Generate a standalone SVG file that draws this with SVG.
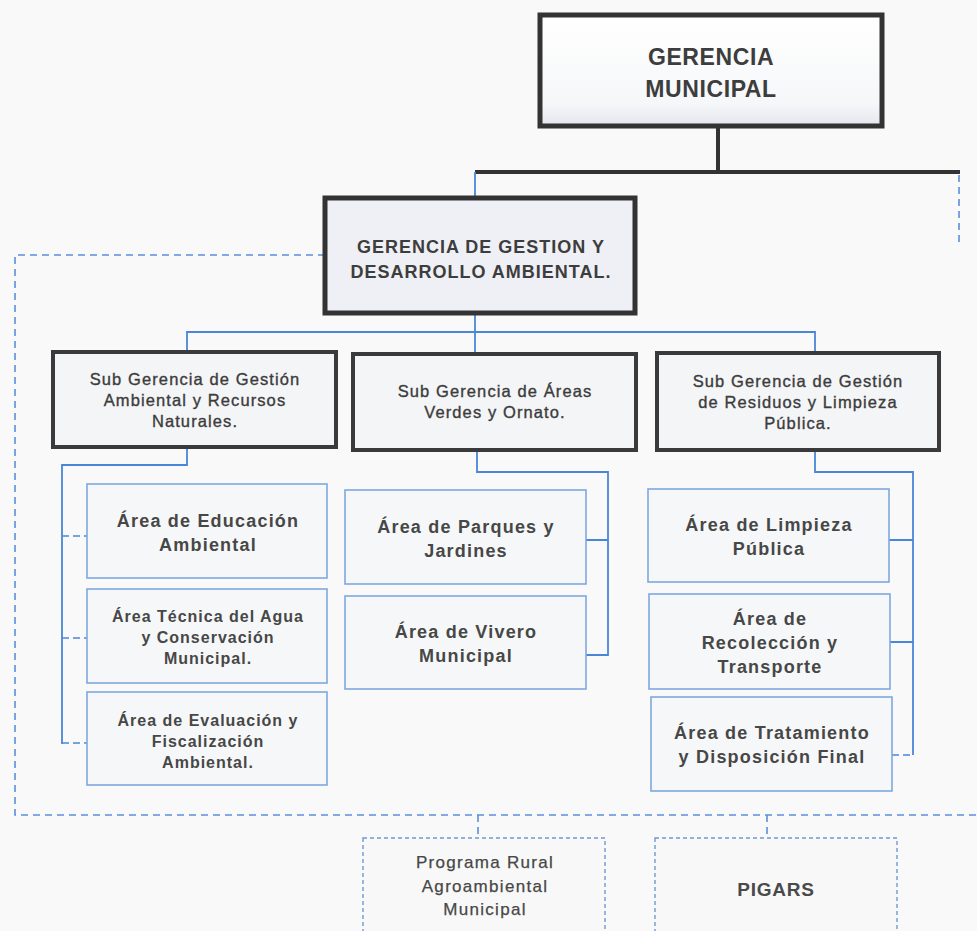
<svg xmlns="http://www.w3.org/2000/svg" width="977" height="931" viewBox="0 0 977 931">
<defs>
<linearGradient id="gTop" x1="0" y1="0" x2="0" y2="1">
<stop offset="0" stop-color="#ffffff"/>
<stop offset="0.8" stop-color="#f6f7f9"/>
<stop offset="1" stop-color="#e3e6ec"/>
</linearGradient>
<style>
.bg{fill:#f9f9f9}
.boxDark{fill:url(#gTop);stroke:#333;stroke-width:5}
.boxGes{fill:#eef0f5;stroke:#333;stroke-width:5}
.boxSub{fill:#f4f5f7;stroke:#3a3a3a;stroke-width:4}
.boxArea{fill:#f6f7f8;stroke:#7fa8df;stroke-width:1.6}
.boxDash{fill:#f8f8f8;stroke:#6f9ad8;stroke-width:1.4;stroke-dasharray:4 3}
.cDark{fill:none;stroke:#333;stroke-width:4}
.cBlue{fill:none;stroke:#4a86d8;stroke-width:1.8}
.cDash{fill:none;stroke:#5b8fd9;stroke-width:1.6;stroke-dasharray:7 5}
.cStub{fill:none;stroke:#4a86d8;stroke-width:1.6;stroke-dasharray:7 4}
text{font-family:"Liberation Sans",Arial,sans-serif;text-anchor:middle;fill:#3d3d3d}
.t1{font-size:23px;font-weight:bold;letter-spacing:0.6px}
.t2{font-size:18px;font-weight:bold;letter-spacing:1px}
.t3{font-size:16.5px;letter-spacing:1.1px;fill:#3c3c3c;stroke:#3c3c3c;stroke-width:0.35px}
.t4{font-size:18px;font-weight:bold;letter-spacing:1.2px;fill:#474747}
.t5{font-size:16px;font-weight:bold;letter-spacing:1px;fill:#474747}
.t6{font-size:17px;letter-spacing:1.3px;fill:#474747;stroke:#474747;stroke-width:0.25px}
.t7{font-size:19px;font-weight:bold;letter-spacing:0.8px;fill:#4a4a4a}
</style>
</defs>
<rect class="bg" x="0" y="0" width="977" height="931"/>

<g id="connectors">
<path class="cDark" d="M718,126 V172"/>
<path class="cDark" d="M475,172 H960"/>
<path class="cDash" d="M959,175 V246"/>
<path class="cBlue" d="M475,172 V198"/>
<path class="cDash" d="M325,255 H15 V815 H977"/>
<path class="cBlue" d="M475,313 V354"/>
<path class="cBlue" d="M187,352 V332 H815 V353"/>
<path class="cBlue" d="M187,447 V465 H62 V744"/>
<path class="cStub" d="M62,536 H87 M62,638 H87 M62,743 H87"/>
<path class="cBlue" d="M477,450 V472 H608 V655 H586 M586,540 H608"/>
<path class="cBlue" d="M815,450 V472 H913 V755 M889,540 H913 M889,642 H913"/>
<path class="cStub" d="M892,755 H913"/>
<path class="cDash" d="M478,815 V838 M767,815 V838"/>
</g>

<g id="gerencia-municipal">
<rect class="boxDark" x="540" y="15" width="342" height="111"/>
<text class="t1" x="711" y="65">GERENCIA</text>
<text class="t1" x="711" y="97">MUNICIPAL</text>
</g>

<g id="gerencia-gestion">
<rect class="boxGes" x="325" y="198" width="310" height="115"/>
<text class="t2" x="481" y="253">GERENCIA DE GESTION Y</text>
<text class="t2" x="481" y="278">DESARROLLO AMBIENTAL.</text>
</g>

<g id="sub-ambiental">
<rect class="boxSub" x="53" y="352" width="283" height="95"/>
<text class="t3" x="195" y="385">Sub Gerencia de Gestión</text>
<text class="t3" x="195" y="406">Ambiental y Recursos</text>
<text class="t3" x="195" y="427">Naturales.</text>
</g>

<g id="sub-areas-verdes">
<rect class="boxSub" x="353" y="354" width="283" height="96"/>
<text class="t3" x="495" y="397">Sub Gerencia de Áreas</text>
<text class="t3" x="495" y="418">Verdes y Ornato.</text>
</g>

<g id="sub-residuos">
<rect class="boxSub" x="657" y="353" width="282" height="97"/>
<text class="t3" x="798" y="387">Sub Gerencia de Gestión</text>
<text class="t3" x="798" y="408">de Residuos y Limpieza</text>
<text class="t3" x="798" y="429">Pública.</text>
</g>

<g id="area-educacion">
<rect class="boxArea" x="87" y="484" width="240" height="94"/>
<text class="t4" x="208" y="527">Área de Educación</text>
<text class="t4" x="208" y="551">Ambiental</text>
</g>

<g id="area-agua">
<rect class="boxArea" x="87" y="589" width="240" height="94"/>
<text class="t5" x="208" y="622">Área Técnica del Agua</text>
<text class="t5" x="208" y="643">y Conservación</text>
<text class="t5" x="208" y="664">Municipal.</text>
</g>

<g id="area-evaluacion">
<rect class="boxArea" x="87" y="692" width="240" height="93"/>
<text class="t5" x="208" y="726">Área de Evaluación y</text>
<text class="t5" x="208" y="747">Fiscalización</text>
<text class="t5" x="208" y="768">Ambiental.</text>
</g>

<g id="area-parques">
<rect class="boxArea" x="345" y="490" width="241" height="94"/>
<text class="t4" x="466" y="533">Área de Parques y</text>
<text class="t4" x="466" y="557">Jardines</text>
</g>

<g id="area-vivero">
<rect class="boxArea" x="345" y="596" width="241" height="93"/>
<text class="t4" x="466" y="638">Área de Vivero</text>
<text class="t4" x="466" y="662">Municipal</text>
</g>

<g id="area-limpieza">
<rect class="boxArea" x="648" y="489" width="241" height="93"/>
<text class="t4" x="769" y="531">Área de Limpieza</text>
<text class="t4" x="769" y="555">Pública</text>
</g>

<g id="area-recoleccion">
<rect class="boxArea" x="649" y="594" width="241" height="95"/>
<text class="t4" x="770" y="625">Área de</text>
<text class="t4" x="770" y="649">Recolección y</text>
<text class="t4" x="770" y="673">Transporte</text>
</g>

<g id="area-tratamiento">
<rect class="boxArea" x="651" y="697" width="241" height="94"/>
<text class="t4" x="772" y="739">Área de Tratamiento</text>
<text class="t4" x="772" y="763">y Disposición Final</text>
</g>

<g id="programa-rural">
<rect class="boxDash" x="363" y="838" width="242" height="96"/>
<text class="t6" x="485" y="868">Programa Rural</text>
<text class="t6" x="485" y="892">Agroambiental</text>
<text class="t6" x="485" y="915">Municipal</text>
</g>

<g id="pigars">
<rect class="boxDash" x="655" y="838" width="242" height="96"/>
<text class="t7" x="776" y="896">PIGARS</text>
</g>
</svg>
